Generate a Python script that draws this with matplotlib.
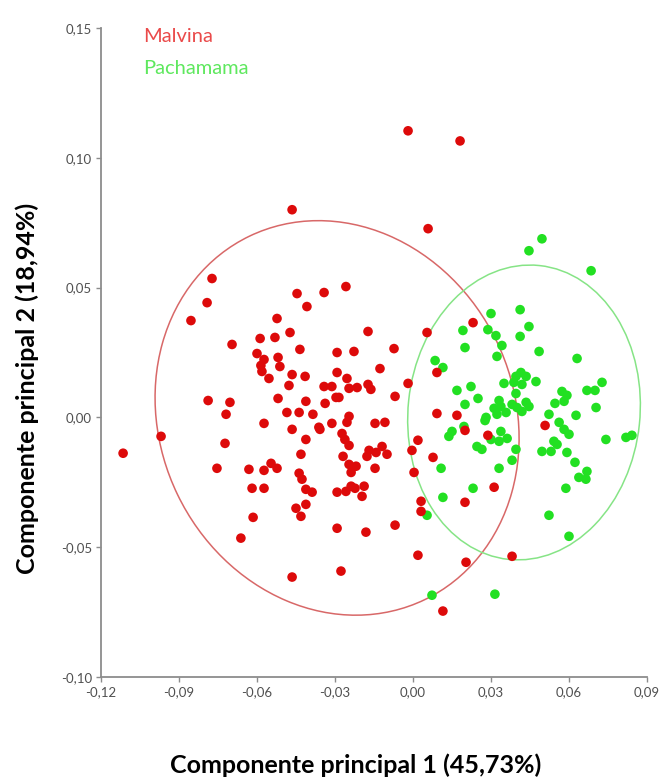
import matplotlib
matplotlib.use("Agg")
import matplotlib.pyplot as plt
from matplotlib.patches import Ellipse
from matplotlib.ticker import FuncFormatter, FixedLocator

# ---------------- data ----------------
malvina_x = [-0.0019, 0.0181, -0.0465, 0.0058, -0.0773, -0.0792, -0.0854, -0.0258, -0.0342, -0.0446,
             -0.0408, -0.0523, -0.0473, -0.0173, 0.0054, 0.0231, -0.0588, -0.0531, -0.0696, -0.0435,
             -0.0292, -0.0227, -0.0073, -0.0600, -0.0573, -0.0519, -0.0512, -0.0585, -0.0581, -0.0554,
             -0.0465, -0.0415, -0.0292, -0.0127, -0.0254, 0.0092, -0.0477, -0.0342, -0.0312, -0.0246,
             -0.0215, -0.0173, -0.0162, -0.0019, -0.0788, -0.0704, -0.0719, -0.0519, -0.0412, -0.0338,
             -0.0296, -0.0285, -0.0069, -0.0485, -0.0438, -0.0385, -0.0246, -0.0254, -0.0312, -0.0146,
             -0.0108, -0.0362, 0.0092, 0.0169, -0.0573, -0.0465, -0.0969, -0.1115, -0.0723, -0.0412,
             -0.0431, -0.0754, -0.0631, -0.0573, -0.0546, -0.0523, -0.0438, -0.0427, -0.0619, -0.0573,
             -0.0412, -0.0388, -0.0450, -0.0431, -0.0412, -0.0615, -0.0662, -0.0465, -0.0358, -0.0273,
             -0.0262, -0.0246, -0.0269, -0.0246, -0.0219, -0.0238, -0.0169, -0.0177, -0.0142, -0.0119,
             -0.0100, -0.0146, -0.0292, -0.0258, -0.0238, -0.0223, -0.0188, -0.0196, -0.0292, -0.0181,
             -0.0069, -0.0277, 0.0019, -0.0004, 0.0077, 0.0004, 0.0031, 0.0031, 0.0200, 0.0019,
             0.0204, 0.0115, 0.0200, 0.0288, 0.0508, 0.0312, 0.0381]
malvina_y = [0.1104, 0.1065, 0.0800, 0.0727, 0.0535, 0.0442, 0.0373, 0.0504, 0.0481, 0.0477,
             0.0427, 0.0381, 0.0327, 0.0331, 0.0327, 0.0365, 0.0304, 0.0308, 0.0281, 0.0262,
             0.0250, 0.0254, 0.0265, 0.0246, 0.0223, 0.0231, 0.0196, 0.0200, 0.0177, 0.0150,
             0.0165, 0.0158, 0.0173, 0.0188, 0.0150, 0.0173, 0.0123, 0.0119, 0.0119, 0.0112,
             0.0115, 0.0127, 0.0108, 0.0131, 0.0065, 0.0058, 0.0012, 0.0073, 0.0062, 0.0054,
             0.0077, 0.0077, 0.0081, 0.0019, 0.0019, 0.0012, 0.0004, -0.0019, -0.0023, -0.0023,
             -0.0019, -0.0038, 0.0015, 0.0008, -0.0023, -0.0046, -0.0073, -0.0138, -0.0100, -0.0085,
             -0.0142, -0.0196, -0.0200, -0.0204, -0.0177, -0.0196, -0.0215, -0.0238, -0.0273, -0.0273,
             -0.0277, -0.0288, -0.0350, -0.0381, -0.0335, -0.0385, -0.0465, -0.0615, -0.0046, -0.0062,
             -0.0085, -0.0108, -0.0150, -0.0181, -0.0188, -0.0212, -0.0127, -0.0150, -0.0135, -0.0112,
             -0.0142, -0.0196, -0.0288, -0.0285, -0.0265, -0.0273, -0.0265, -0.0304, -0.0427, -0.0442,
             -0.0415, -0.0592, -0.0088, -0.0127, -0.0154, -0.0212, -0.0323, -0.0362, -0.0327, -0.0531,
             -0.0558, -0.0746, -0.0050, -0.0069, -0.0031, -0.0269, -0.0535]

pachamama_x = [0.0496, 0.0446, 0.0685, 0.0300, 0.0412, 0.0192, 0.0446, 0.0288, 0.0319, 0.0412,
               0.0200, 0.0342, 0.0323, 0.0485, 0.0631, 0.0085, 0.0115, 0.0169, 0.0223, 0.0250,
               0.0200, 0.0415, 0.0396, 0.0435, 0.0388, 0.0419, 0.0350, 0.0473, 0.0727, 0.0669,
               0.0700, 0.0331, 0.0396, 0.0573, 0.0592, 0.0581, 0.0546, 0.0312, 0.0338, 0.0381,
               0.0400, 0.0435, 0.0446, 0.0419, 0.0323, 0.0281, 0.0704, 0.0523, 0.0627, 0.0358,
               0.0277, 0.0150, 0.0138, 0.0196, 0.0338, 0.0362, 0.0331, 0.0300, 0.0246, 0.0265,
               0.0396, 0.0562, 0.0581, 0.0600, 0.0542, 0.0554, 0.0496, 0.0531, 0.0592, 0.0623,
               0.0742, 0.0819, 0.0842, 0.0381, 0.0108, 0.0331, 0.0669, 0.0638, 0.0665, 0.0231,
               0.0115, 0.0588, 0.0523, 0.0600, 0.0315, 0.0054, 0.0073]
pachamama_y = [0.0688, 0.0642, 0.0565, 0.0400, 0.0415, 0.0335, 0.0350, 0.0338, 0.0315, 0.0312,
               0.0269, 0.0277, 0.0235, 0.0254, 0.0227, 0.0219, 0.0192, 0.0104, 0.0119, 0.0073,
               0.0050, 0.0173, 0.0158, 0.0158, 0.0135, 0.0127, 0.0131, 0.0138, 0.0135, 0.0104,
               0.0104, 0.0065, 0.0092, 0.0100, 0.0085, 0.0062, 0.0054, 0.0035, 0.0042, 0.0050,
               0.0038, 0.0058, 0.0042, 0.0023, 0.0012, 0.0000, 0.0038, 0.0012, 0.0008, 0.0019,
               -0.0012, -0.0054, -0.0073, -0.0035, -0.0054, -0.0081, -0.0092, -0.0085, -0.0112, -0.0123,
               -0.0123, -0.0019, -0.0046, -0.0065, -0.0092, -0.0104, -0.0131, -0.0131, -0.0135, -0.0173,
               -0.0085, -0.0077, -0.0069, -0.0165, -0.0196, -0.0196, -0.0208, -0.0231, -0.0238, -0.0273,
               -0.0308, -0.0273, -0.0377, -0.0458, -0.0681, -0.0377, -0.0685]

# confidence ellipses: center x, center y, width, height, angle
malvina_ellipse = [-0.0292, -0.0002, 0.1362, 0.1554, 25.7]
pachamama_ellipse = [0.0427, 0.0019, 0.0892, 0.1138, -6.0]

group_names = ["Malvina", "Pachamama"]
x_ticks = [-0.12, -0.09, -0.06, -0.03, 0.00, 0.03, 0.06, 0.09]
y_ticks = [-0.10, -0.05, 0.00, 0.05, 0.10, 0.15]
x_label = "Componente principal 1 (45,73%)"
y_label = "Componente principal 2 (18,94%)"

# ---------------- style ----------------
RED = "#dd0a0a"
GREEN = "#22e022"
RED_LINE = "#d86868"
GREEN_LINE = "#86e486"
RED_TXT = "#ea4a4a"
GREEN_TXT = "#5ee85e"
AXIS_COL = "#8c8c8c"
TICK_TXT = "#505050"

plt.rcParams["font.family"] = ["Lato", "DejaVu Sans"]

fig = plt.figure(figsize=(6.65, 7.78), dpi=100)
ax = fig.add_axes([101 / 665, 101 / 778, 546 / 665, 649 / 778])

for (cx, cy, w, h, ang), col in ((malvina_ellipse, RED_LINE), (pachamama_ellipse, GREEN_LINE)):
    ax.add_patch(Ellipse((cx, cy), w, h, angle=ang, fill=False, edgecolor=col, lw=1.1, zorder=2))

ax.scatter(pachamama_x, pachamama_y, s=48, color=GREEN, edgecolors="none", zorder=3)
ax.scatter(malvina_x, malvina_y, s=48, color=RED, edgecolors="none", zorder=4)

ax.set_xlim(-0.12, 0.09)
ax.set_ylim(-0.10, 0.15)
ax.xaxis.set_major_locator(FixedLocator(x_ticks))
ax.yaxis.set_major_locator(FixedLocator(y_ticks))
fmt = FuncFormatter(lambda v, p: ("%.2f" % (0.0 if abs(v) < 1e-9 else v)).replace(".", ","))
ax.xaxis.set_major_formatter(fmt)
ax.yaxis.set_major_formatter(fmt)

for s in ("top", "right"):
    ax.spines[s].set_visible(False)
for s in ("left", "bottom"):
    ax.spines[s].set_color(AXIS_COL)
    ax.spines[s].set_linewidth(1.3)
ax.tick_params(axis="both", direction="out", length=3.5, width=1.0, color=AXIS_COL,
               labelsize=9.5, labelcolor=TICK_TXT, pad=3)

fig.text(143 / 665, 1 - 37 / 778, group_names[0], color=RED_TXT, fontsize=14.5, va="center", ha="left")
fig.text(143 / 665, 1 - 68 / 778, group_names[1], color=GREEN_TXT, fontsize=14.5, va="center", ha="left")

fig.text(356 / 665, 1 - 765 / 778, x_label, fontsize=18, fontweight="bold", ha="center", va="center")
fig.text(27 / 665, 1 - 388 / 778, y_label, fontsize=18, fontweight="bold", ha="center", va="center",
         rotation=90)

fig.savefig("out.png", dpi=100, facecolor="white")
